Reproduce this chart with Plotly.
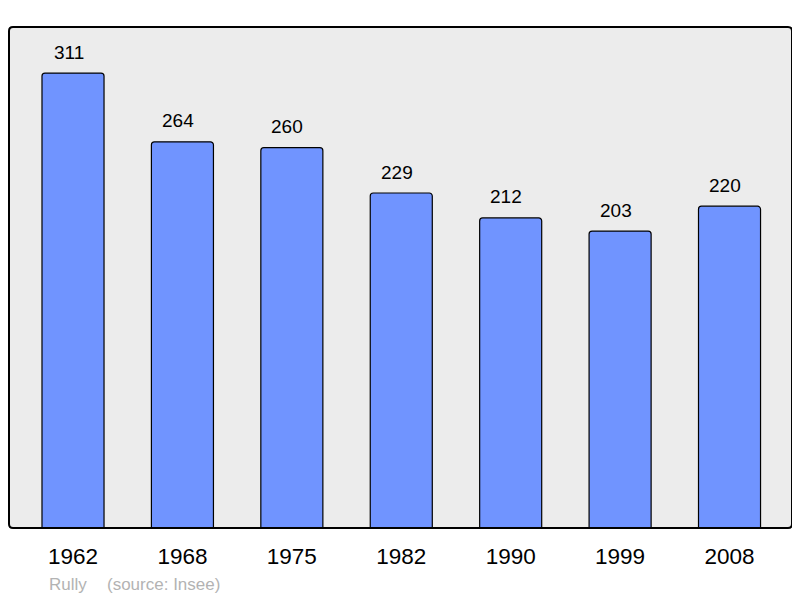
import plotly.graph_objects as go

years = ["1962", "1968", "1975", "1982", "1990", "1999", "2008"]
population = [311, 264, 260, 229, 212, 203, 220]
commune = "Rully"
source = "(source: Insee)"

# page body has an 8px margin; shift figure coordinates accordingly
OFF = 8
W, H = 800 - OFF, 598 - OFF
ML, MT = 9 - OFF, 27 - OFF
pw = 792 - 9
ph = 528 - 27
MR = W - ML - pw
MB = H - MT - ph

fig = go.Figure()
fig.add_trace(go.Bar(
    x=list(range(len(years))), y=population,
    width=0.567,
    marker=dict(color="#7094ff", line=dict(color="#000000", width=1.2), cornerradius=3),
    hoverinfo="skip",
))

for i, v in enumerate(population):
    fig.add_annotation(x=i, y=v, text=str(v), showarrow=False,
                       yanchor="middle", yshift=21, xshift=-4.5,
                       font=dict(family="Liberation Sans, Arial", size=19, color="#000000"))

fy = (528 - 584) / ph
fig.add_annotation(xref="paper", yref="paper", x=(47 - 9) / pw, y=fy,
                   text=commune, showarrow=False, xanchor="left", yanchor="middle",
                   font=dict(family="Liberation Sans, Arial", size=17, color="#b3b3b3"))
fig.add_annotation(xref="paper", yref="paper", x=(105 - 9) / pw, y=fy,
                   text=source, showarrow=False, xanchor="left", yanchor="middle",
                   font=dict(family="Liberation Sans, Arial", size=17, color="#b3b3b3"))

# rounded frame
rx, ry = 4 / pw, 4 / ph
path = (f"M {rx},0 L {1-rx},0 Q 1,0 1,{ry} L 1,{1-ry} Q 1,1 {1-rx},1 "
        f"L {rx},1 Q 0,1 0,{1-ry} L 0,{ry} Q 0,0 {rx},0 Z")
fig.add_shape(type="path", path=path, xref="paper", yref="paper",
              line=dict(color="#000000", width=2), fillcolor="rgba(0,0,0,0)", layer="above")

fig.update_layout(
    width=W, height=H,
    margin=dict(l=ML, r=MR, t=MT, b=MB, pad=0),
    paper_bgcolor="#ffffff",
    plot_bgcolor="#ececec",
    showlegend=False,
    xaxis=dict(range=[-0.585, 6.571], showgrid=False, zeroline=False,
               tickmode="array", tickvals=list(range(len(years))), ticktext=years,
               ticks="", showline=False, ticklabelstandoff=12,
               tickfont=dict(family="Liberation Sans, Arial", size=22.5, color="#000000")),
    yaxis=dict(range=[0, 342.5], showgrid=False, zeroline=False, showticklabels=False,
               ticks="", showline=False),
)

fig.write_html("out.html")
